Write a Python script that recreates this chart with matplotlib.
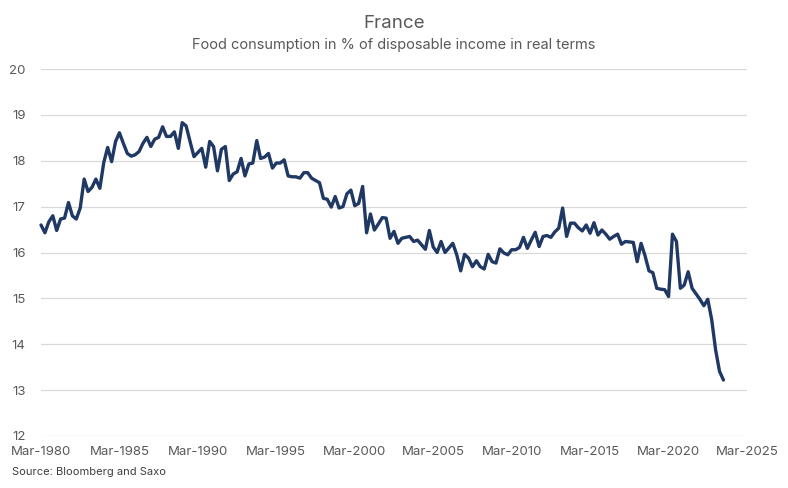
import matplotlib
matplotlib.use("Agg")
import matplotlib.pyplot as plt
import matplotlib.dates as mdates
import pandas as pd

plt.rcParams['font.family'] = ['Inter', 'DejaVu Sans']

# Quarterly values starting Q1 1980
values = [
    16.6, 16.43, 16.67, 16.8, 16.48, 16.73, 16.75, 17.09, 16.8, 16.73,   # 0-9
    16.97, 17.6, 17.33, 17.42, 17.6, 17.4, 17.96, 18.29, 17.98, 18.42,   # 10-19
    18.61, 18.38, 18.16, 18.1, 18.13, 18.2, 18.38, 18.51, 18.31, 18.47,  # 20-29
    18.51, 18.74, 18.53, 18.53, 18.63, 18.27, 18.83, 18.76, 18.42, 18.09, # 30-39
    18.18, 18.27, 17.86, 18.42, 18.31, 17.78, 18.25, 18.31, 17.57, 17.71, # 40-49
    17.76, 18.05, 17.67, 17.93, 17.95, 18.44, 18.05, 18.08, 18.16, 17.84, # 50-59
    17.95, 17.95, 18.02, 17.67, 17.65, 17.65, 17.62, 17.74, 17.74, 17.62, # 60-69
    17.57, 17.52, 17.18, 17.16, 16.99, 17.22, 16.97, 17.0, 17.28, 17.36,  # 70-79
    17.02, 17.07, 17.44, 16.43, 16.84, 16.49, 16.62, 16.76, 16.75, 16.31, # 80-89
    16.46, 16.2, 16.31, 16.33, 16.35, 16.24, 16.27, 16.17, 16.07, 16.48,  # 90-99
    16.12, 16.0, 16.24, 16.0, 16.1, 16.2, 15.95, 15.6, 15.96, 15.88,      # 100-109
    15.69, 15.82, 15.69, 15.64, 15.96, 15.8, 15.77, 16.08, 15.99, 15.95,  # 110-119
    16.06, 16.06, 16.11, 16.33, 16.09, 16.27, 16.44, 16.13, 16.35, 16.37, # 120-129
    16.33, 16.45, 16.53, 16.97, 16.35, 16.64, 16.64, 16.54, 16.47, 16.6,  # 130-139
    16.42, 16.65, 16.38, 16.49, 16.4, 16.29, 16.35, 16.4, 16.18, 16.24,   # 140-149
    16.23, 16.22, 15.8, 16.2, 15.93, 15.6, 15.56, 15.22, 15.2, 15.19,     # 150-159
    15.04, 16.4, 16.24, 15.22, 15.29, 15.58, 15.22, 15.1, 14.98, 14.84,   # 160-169
    14.98, 14.53, 13.88, 13.41, 13.22,                                     # 170-174
]
dates = pd.date_range('1980-03-31', periods=len(values), freq='QE')

tick_dates = pd.to_datetime(['1980-03-31', '1985-03-31', '1990-03-31', '1995-03-31',
                             '2000-03-31', '2005-03-31', '2010-03-31', '2015-03-31',
                             '2020-03-31', '2025-03-31'])
y_ticks = [12, 13, 14, 15, 16, 17, 18, 19, 20]

title = "France"
subtitle = "Food consumption in % of disposable income in real terms"
source = "Source: Bloomberg and Saxo"

fig = plt.figure(figsize=(7.88, 4.88), dpi=100)
ax = fig.add_axes([41/788, 1-436/488, (747-41)/788, (436-69)/488])

ax.plot(dates, values, color='#1f3864', lw=2.4, solid_capstyle='round',
        solid_joinstyle='round', zorder=3, clip_on=False)

ax.set_xlim(tick_dates[0], tick_dates[-1])
ax.set_ylim(12, 20)
ax.set_xticks(tick_dates)
ax.xaxis.set_major_formatter(mdates.DateFormatter('%b-%Y'))
ax.set_yticks(y_ticks)
ax.grid(axis='y', color='#d9d9d9', lw=0.9)
ax.grid(axis='x', visible=False)
for s in ax.spines.values():
    s.set_visible(False)
ax.tick_params(axis='both', length=0, labelsize=9.5, colors='#595959')
ax.tick_params(axis='y', pad=11)
ax.tick_params(axis='x', pad=7)
ax.set_axisbelow(True)

fig.text(0.5, 1-24/488, title, ha='center', va='center', fontsize=13.5, color='#595959')
fig.text(0.5, 1-45/488, subtitle, ha='center', va='center', fontsize=10.5, color='#595959')
fig.text(12/788, 1-472/488, source, ha='left', va='center', fontsize=8, color='#404040')

fig.savefig('out.png', dpi=100)
